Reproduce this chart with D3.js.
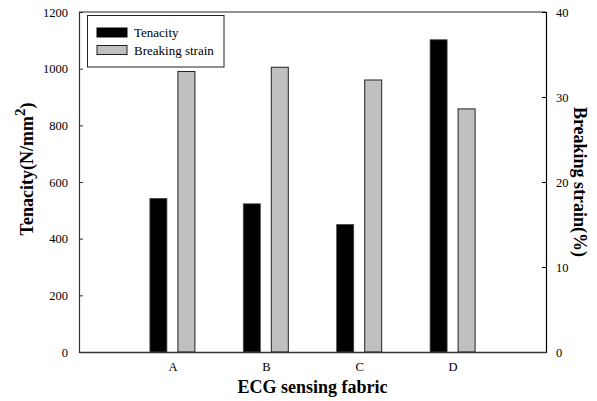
<!DOCTYPE html>
<html>
<head>
<meta charset="utf-8">
<script src="https://cdn.jsdelivr.net/npm/d3@7/dist/d3.min.js"></script>
<style>
    body { margin: 0; background: #fff; }
    text { font-family: "Liberation Serif", "Times New Roman", serif; fill: #000; }
    .tick text { font-size: 12.5px; }
    .axis-title { font-size: 18px; font-weight: bold; }
    .legend text { font-size: 13px; }
</style>
</head>
<body>
<div id="chart"></div>
<script>
    // data
    const categories = ["A", "B", "C", "D"];
    const tenacity = [542, 523, 450, 1102];          // N/mm2, left axis
    const breakingStrain = [33.0, 33.5, 32.0, 28.6]; // %, right axis
    const leftTicks = [0, 200, 400, 600, 800, 1000, 1200];
    const rightTicks = [0, 10, 20, 30, 40];

    const width = 597, height = 401;
    const margin = {left: 79, right: 51, top: 12, bottom: 49};
    const plotW = width - margin.left - margin.right;
    const plotH = height - margin.top - margin.bottom;

    const svg = d3.select("#chart").append("svg")
        .attr("width", width)
        .attr("height", height)
        .attr("font-family", "Liberation Serif, serif");

    const g = svg.append("g")
        .attr("transform", `translate(${margin.left},${margin.top})`);

    // categories sit at 1..4 on a 0..5 axis
    const x = d3.scaleLinear().domain([0, categories.length + 1]).range([0, plotW]);
    const yL = d3.scaleLinear().domain([0, 1200]).range([plotH, 0]);
    const yR = d3.scaleLinear().domain([0, 40]).range([plotH, 0]);

    const barW = 17;
    const offset = 14;

    // bars
    g.selectAll("rect.ten")
        .data(tenacity)
        .enter().append("rect")
        .attr("class", "ten")
        .attr("x", (d, i) => x(i + 1) - offset - barW / 2)
        .attr("y", d => yL(d))
        .attr("width", barW)
        .attr("height", d => plotH - yL(d))
        .attr("fill", "#000")
        .attr("stroke", "#444")
        .attr("stroke-width", 0.8);

    g.selectAll("rect.bs")
        .data(breakingStrain)
        .enter().append("rect")
        .attr("class", "bs")
        .attr("x", (d, i) => x(i + 1) + offset - barW / 2)
        .attr("y", d => yR(d))
        .attr("width", barW)
        .attr("height", d => plotH - yR(d))
        .attr("fill", "#c0c0c0")
        .attr("stroke", "#222")
        .attr("stroke-width", 1);

    // frame
    g.append("line").attr("x1", 0).attr("x2", plotW).attr("y1", 0).attr("y2", 0)
        .attr("stroke", "#222").attr("stroke-width", 1);

    // left axis, ticks inside
    const leftAxis = g.append("g")
        .call(d3.axisLeft(yL).tickValues(leftTicks).tickSize(-4).tickPadding(11).tickFormat(d3.format("d")));
    leftAxis.select(".domain").attr("stroke", "#333").attr("stroke-width", 1.2);
    leftAxis.selectAll(".tick line").attr("stroke", "#333");

    // right axis, ticks inside
    const rightAxis = g.append("g")
        .attr("transform", `translate(${plotW},0)`)
        .call(d3.axisRight(yR).tickValues(rightTicks).tickSize(-4).tickPadding(10).tickFormat(d3.format("d")));
    rightAxis.select(".domain").attr("stroke", "#000").attr("stroke-width", 1.2);
    rightAxis.selectAll(".tick line").attr("stroke", "#000");

    // bottom axis with category labels, no ticks
    const bottomAxis = g.append("g")
        .attr("transform", `translate(0,${plotH})`)
        .call(d3.axisBottom(x).tickValues(d3.range(1, categories.length + 1))
            .tickSize(0).tickPadding(10).tickFormat(d => categories[d - 1]));
    bottomAxis.select(".domain").attr("stroke", "#333").attr("stroke-width", 1.6);

    [leftAxis, rightAxis, bottomAxis].forEach(a => a.attr("font-family", null).attr("font-size", null));

    // axis titles
    svg.append("text")
        .attr("class", "axis-title")
        .attr("x", margin.left + plotW / 2)
        .attr("y", 393)
        .attr("text-anchor", "middle")
        .text("ECG sensing fabric");

    const lt = svg.append("text")
        .attr("class", "axis-title")
        .attr("text-anchor", "middle")
        .attr("transform", "translate(33,169) rotate(-90)");
    lt.append("tspan").text("Tenacity(N/mm");
    lt.append("tspan").attr("dy", -8).style("font-size", "15px").text("2");
    lt.append("tspan").attr("dy", 8).text(")");

    svg.append("text")
        .attr("class", "axis-title")
        .attr("text-anchor", "middle")
        .attr("transform", "translate(574,182) rotate(90)")
        .text("Breaking strain(%)");

    // legend
    const legendItems = [
        {label: "Tenacity", fill: "#000", stroke: "#000"},
        {label: "Breaking strain", fill: "#c0c0c0", stroke: "#222"}
    ];
    const legend = svg.append("g").attr("class", "legend");
    legend.append("rect")
        .attr("x", 87.5).attr("y", 15.5)
        .attr("width", 136.5).attr("height", 51.5)
        .attr("fill", "#fff").attr("stroke", "#222").attr("stroke-width", 1);
    legend.selectAll("g.item")
        .data(legendItems)
        .enter().append("g")
        .attr("class", "item")
        .attr("transform", (d, i) => `translate(97,${28 + i * 17.5})`)
        .each(function(d) {
            const it = d3.select(this);
            it.append("rect")
                .attr("width", 30).attr("height", 9)
                .attr("fill", d.fill).attr("stroke", d.stroke).attr("stroke-width", 1);
            it.append("text")
                .attr("x", 37).attr("y", 9)
                .text(d.label);
        });
</script>
</body>
</html>
